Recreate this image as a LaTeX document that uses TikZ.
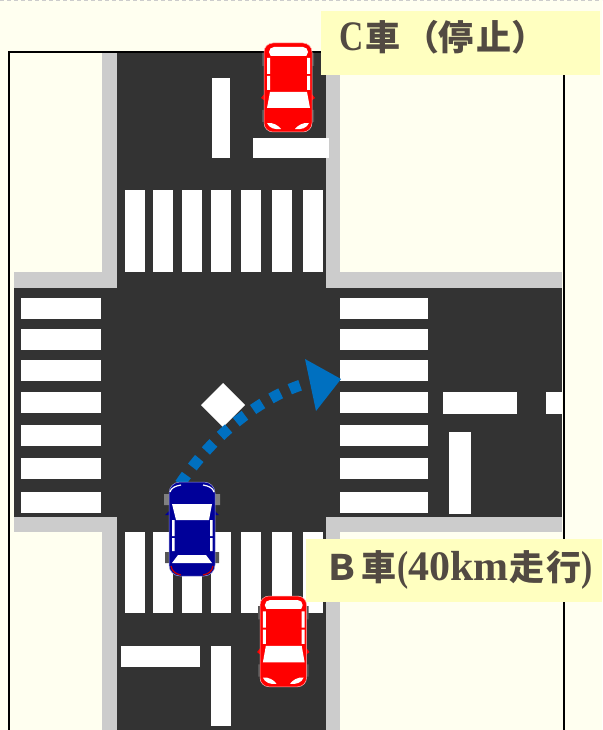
\documentclass[tikz,border=0pt]{standalone}
\usepackage{fontspec}
\setmainfont{Liberation Serif}
\newfontfamily\cjk{Noto Sans CJK JP}
\definecolor{paper}{HTML}{FFFFF0}
\definecolor{asphalt}{HTML}{333333}
\definecolor{kerb}{HTML}{CCCCCC}
\definecolor{labelbg}{HTML}{FFFFC0}
\definecolor{labelfg}{HTML}{524A42}
\definecolor{arrowblue}{HTML}{0070C0}
\definecolor{wheelgrey}{HTML}{555555}
\definecolor{navycar}{HTML}{000099}
\newcommand{\cjkchar}[1]{\makebox[35pt][c]{\cjk\fontsize{35}{38}\selectfont #1}}
\newcommand{\narrowlatin}[1]{\scalebox{.8}[1]{#1}}
\tikzset{
  paint/.style={fill=white,draw=none},
  kerbfill/.style={fill=kerb,draw=none},
  road/.style={fill=asphalt,draw=none},
  frameline/.style={draw=black,line width=1.6pt},
  labelbox/.style={fill=labelbg,draw=none},
  labeltext/.style={text=labelfg,inner sep=0pt,font=\fontsize{42}{44}\selectfont\bfseries},
  redcar/.pic={
    \fill[wheelgrey] (-2,10) rectangle (1,23) (47,10) rectangle (50,23)
                     (-2,67) rectangle (1,79) (47,67) rectangle (50,79);
    \fill[red] (-3,55) -- (1,50) -- (1,58) -- cycle (51,55) -- (47,50) -- (47,58) -- cycle;
    \fill[red,draw=white!70!red,line width=.5pt,rounded corners=9pt] (0,0) rectangle (48,89);
    \fill[white,rounded corners=5pt] (5,4) rectangle (44,14);
    \fill[red] (5,13) rectangle (44,16);
    \path[paint] (6,49) -- (43,49) -- (46,65) -- (3,65) -- cycle;
    \path[paint] (3,15) rectangle (6,31) (3,33) rectangle (6,47)
                 (43,15) rectangle (46,31) (43,33) rectangle (46,47);
    \path[paint] (3,80) .. controls (9,79) and (15,83) .. (17,86) .. controls (11,87) and (5,85) .. (3,80) -- cycle;
    \path[paint] (45,80) .. controls (39,79) and (33,83) .. (31,86) .. controls (37,87) and (43,85) .. (45,80) -- cycle;
  },
  bluecar/.pic={
    \fill[gray] (-5,12) rectangle (0,23) (46,12) rectangle (51,23);
    \fill[wheelgrey] (-4,70) rectangle (0,81) (46,70) rectangle (50,81);
    \fill[navycar] (-4,33) -- (0,29) -- (0,33) -- cycle (50,33) -- (46,29) -- (46,33) -- cycle;
    \fill[navycar,draw=white!60!navycar,line width=.5pt,rounded corners=11pt] (0,0) rectangle (46,94);
    \path[paint] (3,22) -- (43,22) -- (40,38) -- (7,38) -- cycle;
    \path[paint] (9,73) -- (37,73) -- (43,81) -- (3,81) -- cycle;
    \path[paint] (3,38) rectangle (5.5,54) (3,56) rectangle (5.5,69)
                 (41,38) rectangle (43.5,54) (41,56) rectangle (43.5,69);
    \draw[white,line width=1.2pt] (1,10) .. controls (2,6) and (6,4) .. (12,3);
    \draw[white,line width=1.2pt] (45,10) .. controls (44,6) and (40,4) .. (34,3);
    \draw[red!80!black,line width=1.2pt] (2,84) .. controls (3,89) and (6,92) .. (12,93);
    \draw[red!80!black,line width=1.2pt] (44,84) .. controls (43,89) and (40,92) .. (34,93);
  }
}
\begin{document}
\begin{tikzpicture}[x=1pt,y=-1pt]
\useasboundingbox (0,0) rectangle (602,730);
\fill[paper] (0,0) rectangle (602,730);
\draw[kerb,line width=1pt,dash pattern=on 4pt off 3pt] (0,.5) -- (602,.5);
% kerbs
\path[kerbfill] (102,53) rectangle (340,730);
\path[kerbfill] (14,272) rectangle (562,532);
\fill[paper] (340,53) rectangle (563,272);
\fill[paper] (340,532) rectangle (563,730);
% road
\path[road] (117,53) rectangle (326,730);
\path[road] (14,288) rectangle (562,517);
% frame
\draw[frameline] (9,730) -- (9,52) -- (564,52) -- (564,730);
% crosswalks
\foreach \a/\b in {125/145,153/173,182/202,211/231,241/261,272/292,303/323}{
  \path[paint] (\a,190) rectangle (\b,272);
  \path[paint] (\a,532) rectangle (\b,613);
}
\foreach \a/\b in {298/319,329/350,360/381,392/413,425/446,458/479,492/513}{
  \path[paint] (21,\a) rectangle (101,\b);
  \path[paint] (340,\a) rectangle (428,\b);
}
% lane markings
\path[paint] (212,78) rectangle (230,158);
\path[paint] (253,138) rectangle (329,158);
\path[paint] (121,646) rectangle (200,667);
\path[paint] (211,646) rectangle (231,726);
\path[paint] (449,432) rectangle (471,514);
\path[paint] (443,392) rectangle (517,414);
\path[paint] (546,392) rectangle (562,414);
\path[paint] (223,383) -- (245,405) -- (223,427) -- (201,405) -- cycle;
% arrow
\coordinate (arrowstart) at (180,484);
\coordinate (arrowtip) at (341,379);
\draw[arrowblue,line width=11pt,dash pattern=on 11pt off 10pt]
  (arrowstart) .. controls (215,432) and (262,398) .. (301,385);
\fill[arrowblue] (305,359) -- (arrowtip) -- (316,411) -- cycle;
% cars
\pic at (264,43) {redcar};
\pic[xscale=.97,yscale=1.02] at (260,596) {redcar};
\pic at (169,482) {bluecar};
% labels
\path[labelbox] (321,11) rectangle (600,75);
\path[labelbox] (306,539) rectangle (602,602);
\node[labeltext,anchor=base west] (labelc) at (338,51) {\hspace{1pt}\narrowlatin{C}\hspace{2.5pt}\cjkchar{車}\hspace{4pt}\cjkchar{（}\hspace{-1pt}\cjkchar{停}\hspace{3pt}\cjkchar{止}\cjkchar{）}};
\node[labeltext,anchor=base west] (labelb) at (324,580) {\cjkchar{Ｂ}\hspace{2pt}\cjkchar{車}\hspace{1pt}\narrowlatin{(}\hspace{0pt}40km\hspace{1pt}\cjkchar{走}\hspace{2pt}\cjkchar{行}\narrowlatin{)}};
\end{tikzpicture}
\end{document}
